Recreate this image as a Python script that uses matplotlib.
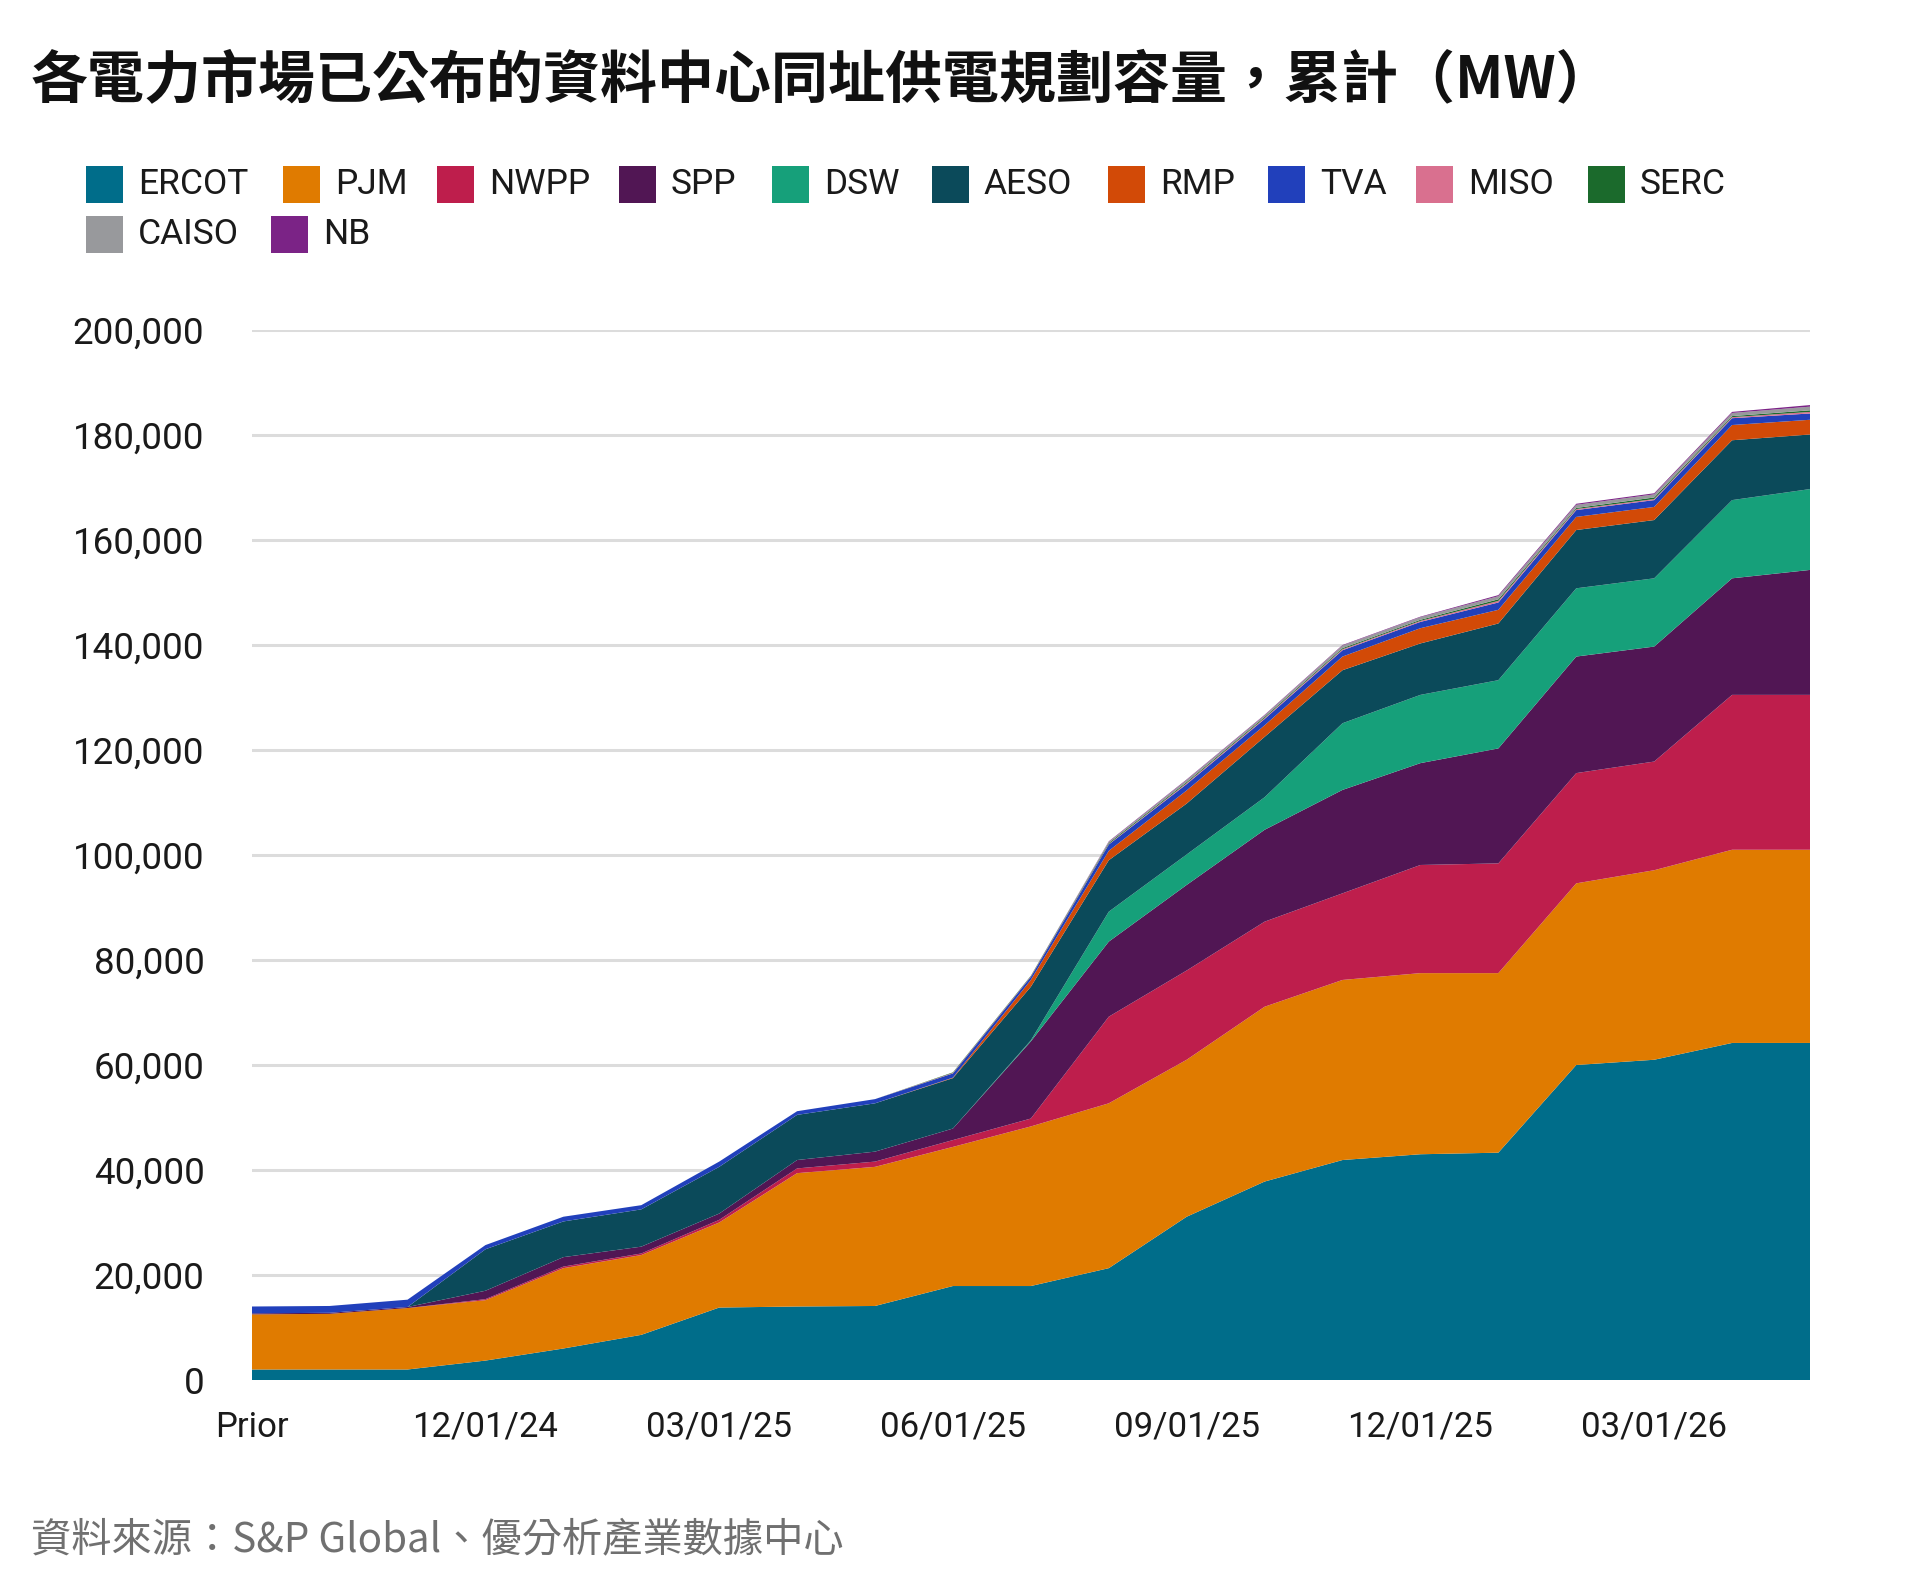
import matplotlib
matplotlib.use("Agg")
import matplotlib.pyplot as plt
from matplotlib.patches import Rectangle
from matplotlib.ticker import FuncFormatter, FixedLocator
import numpy as np

# ---------------- data (MW, cumulative) ----------------
periods = ["Prior", "10/01/24", "11/01/24", "12/01/24", "01/01/25", "02/01/25",
           "03/01/25", "04/01/25", "05/01/25", "06/01/25", "07/01/25", "08/01/25",
           "09/01/25", "10/01/25", "11/01/25", "12/01/25", "01/01/26", "02/01/26",
           "03/01/26", "04/01/26", "05/01/26"]
tick_labels = ["Prior", "12/01/24", "03/01/25", "06/01/25", "09/01/25", "12/01/25", "03/01/26"]

ERCOT = [2000, 2000, 2000, 3700, 6000, 8600, 13800, 14000, 14100, 17900, 17900,
         21300, 31100, 37800, 41900, 43000, 43300, 60000, 61000, 64200, 64200]
PJM = [10500, 10600, 11700, 11500, 15300, 15200, 16200, 25400, 26500, 26500, 30400,
       31400, 29900, 33300, 34300, 34500, 34200, 34600, 36100, 36800, 36800]
NWPP = [0, 0, 0, 200, 300, 300, 500, 900, 1000, 1300, 1500,
        16500, 17000, 16200, 16500, 20600, 20900, 21000, 20700, 29500, 29500]
SPP = [200, 200, 200, 1600, 1800, 1300, 1200, 1600, 1900, 2200, 14700,
       14300, 16300, 17500, 19700, 19400, 21900, 22200, 21900, 22200, 23800]
DSW = [0, 0, 0, 0, 0, 0, 0, 0, 0, 0, 200,
       5700, 5800, 6200, 12700, 13000, 13000, 13000, 13000, 14900, 15400]
AESO = [0, 0, 0, 7900, 6800, 7100, 8900, 8600, 9200, 9600, 10200,
        9800, 9700, 11500, 10100, 9800, 10800, 11100, 11100, 11400, 10400]
RMP = [0, 0, 0, 0, 0, 0, 0, 0, 0, 100, 1300,
       1800, 2500, 2200, 2600, 2900, 2600, 2500, 2500, 2900, 2800]
TVA = [1300, 1300, 1400, 800, 900, 800, 1000, 700, 800, 800, 600,
       1200, 1200, 1200, 1200, 1200, 1400, 1300, 1300, 1300, 1200]
MISO = [0, 0, 0, 0, 0, 0, 0, 0, 0, 100, 100,
        100, 200, 200, 200, 200, 300, 200, 200, 200, 300]
SERC = [0, 0, 0, 0, 0, 0, 0, 0, 0, 100, 100,
        200, 200, 200, 200, 200, 300, 200, 300, 200, 300]
CAISO = [0, 0, 0, 0, 0, 0, 0, 0, 0, 0, 0,
         200, 400, 300, 500, 500, 600, 600, 600, 600, 700]
NB = [0, 0, 0, 0, 0, 0, 0, 0, 0, 0, 0,
      100, 100, 100, 100, 100, 200, 200, 200, 200, 300]

series_names = ["ERCOT", "PJM", "NWPP", "SPP", "DSW", "AESO", "RMP", "TVA",
                "MISO", "SERC", "CAISO", "NB"]
series_values = [ERCOT, PJM, NWPP, SPP, DSW, AESO, RMP, TVA, MISO, SERC, CAISO, NB]
colors = ["#006d8a", "#e07b00", "#be1e4c", "#511654", "#16a07a", "#0b4a5a",
          "#d24a07", "#2140bb", "#d9708f", "#1b6a2c", "#98999c", "#7b2386"]

title = "各電力市場已公布的資料中心同址供電規劃容量，累計（MW）"
source = "資料來源：S&P Global、優分析產業數據中心"

# ---------------- figure ----------------
W, H = 1920, 1588
fig = plt.figure(figsize=(W / 100, H / 100), dpi=100)
fig.patch.set_facecolor("white")

def fx(px):
    return px / W

def fy(py):
    return 1 - py / H

ax_left, ax_right, ax_bottom, ax_top = 251.7, 1810, 1380, 330
ax = fig.add_axes([fx(ax_left), fy(ax_bottom), fx(ax_right - ax_left), (ax_bottom - ax_top) / H])

x = np.arange(len(periods))
ax.stackplot(x, *series_values, colors=colors, linewidth=0, zorder=2)

ax.set_xlim(0, len(periods) - 1)
ax.set_ylim(0, 200000)
ax.set_yticks(np.arange(0, 200001, 20000))
ax.yaxis.set_major_formatter(FuncFormatter(lambda v, p: f"{int(v):,}"))
tick_pos = [periods.index(t) for t in tick_labels]
ax.xaxis.set_major_locator(FixedLocator(tick_pos))
ax.set_xticklabels(tick_labels)

ax.yaxis.grid(True, color="#dcdcdc", linewidth=2.2, zorder=0)
ax.set_axisbelow(True)
for s in ax.spines.values():
    s.set_visible(False)
ax.tick_params(axis="both", length=0, colors="#1a1a1a")
ax.tick_params(axis="y", pad=34, labelsize=26.5)
ax.tick_params(axis="x", pad=22, labelsize=25)
for lab in ax.get_xticklabels() + ax.get_yticklabels():
    lab.set_family(["Roboto", "DejaVu Sans"])

# ---------------- title ----------------
fig.text(fx(31), fy(80), title, fontsize=41, fontweight="bold", va="center", ha="left",
         family=["Noto Sans CJK TC", "DejaVu Sans"], color="#111111")

# ---------------- legend (manual) ----------------
sq_x = [86, 283, 437, 619, 772, 932, 1108, 1268, 1416, 1588, 86, 271]
row_y = [184] * 10 + [234] * 2
sq = 37
for name, c, sx, ry in zip(series_names, colors, sq_x, row_y):
    fig.patches.append(Rectangle((fx(sx), fy(ry + sq / 2)), sq / W, sq / H,
                                 transform=fig.transFigure, facecolor=c, edgecolor="none"))
    fig.text(fx(sx + 52), fy(ry), name, fontsize=25.5, va="center", ha="left",
             family=["Roboto", "DejaVu Sans"], color="#1a1a1a")

# ---------------- source ----------------
fig.text(fx(31), fy(1540), source, fontsize=29, va="center", ha="left",
         family=["Noto Sans CJK TC", "DejaVu Sans"], color="#707070")

fig.savefig("out.png", dpi=100, facecolor="white")
